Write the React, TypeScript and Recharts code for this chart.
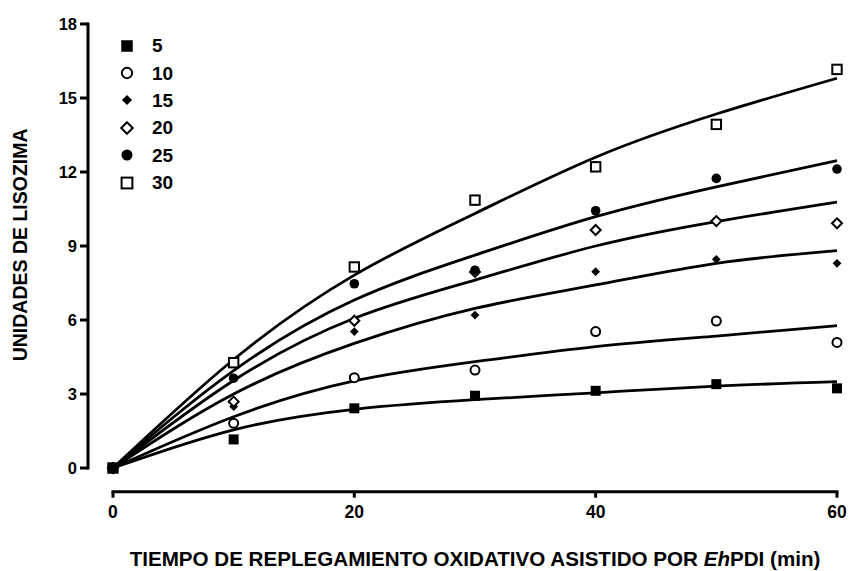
import React from 'react';
import { ComposedChart, Line, Scatter, XAxis, YAxis, ReferenceLine, Label } from 'recharts';

// the chart fills the whole window, so drop the default body margin
if (typeof document !== 'undefined') document.body.style.margin = '0';

// sampling times (min)
const times = [0, 10, 20, 30, 40, 50, 60];

// measured lysozyme units, one list per EhPDI series
const obs5 = [0, 1.16, 2.42, 2.93, 3.13, 3.4, 3.23];
const obs10 = [0, 1.81, 3.66, 3.97, 5.53, 5.96, 5.09];
const obs15 = [0, 2.49, 5.53, 6.2, 7.96, 8.46, 8.3];
const obs20 = [0, 2.69, 5.97, 7.95, 9.65, 10.01, 9.92];
const obs25 = [0, 3.64, 7.47, 8.02, 10.43, 11.74, 12.12];
const obs30 = [0, 4.27, 8.15, 10.86, 12.21, 13.93, 16.16];

// fitted curves at the same times
const fit5 = [0, 1.55, 2.38, 2.77, 3.05, 3.32, 3.5];
const fit10 = [0, 2.08, 3.53, 4.31, 4.92, 5.35, 5.77];
const fit15 = [0, 3.0, 5.05, 6.47, 7.42, 8.3, 8.81];
const fit20 = [0, 3.55, 6.07, 7.62, 9.0, 9.99, 10.78];
const fit25 = [0, 3.95, 6.81, 8.63, 10.19, 11.4, 12.46];
const fit30 = [0, 4.4, 7.82, 10.32, 12.6, 14.35, 15.8];

const seriesNames = ['5', '10', '15', '20', '25', '30'];
const xTicks = [0, 20, 40, 60];
const yTicks = [0, 3, 6, 9, 12, 15, 18];

type Kind = 'square' | 'circleOpen' | 'diamond' | 'diamondOpen' | 'circle' | 'squareOpen';
const kinds: Kind[] = ['square', 'circleOpen', 'diamond', 'diamondOpen', 'circle', 'squareOpen'];

const FONT = '"Liberation Sans", Arial, sans-serif';

const fitRows = times.map((t, i) => ({
  t,
  f5: fit5[i],
  f10: fit10[i],
  f15: fit15[i],
  f20: fit20[i],
  f25: fit25[i],
  f30: fit30[i],
}));

const toPoints = (vals: number[]) => times.map((t, i) => ({ t, v: vals[i] }));

function Marker({ kind, cx, cy, s = 1 }: { kind: Kind; cx: number; cy: number; s?: number }) {
  switch (kind) {
    case 'square': {
      const h = 5 * s;
      return <rect x={cx - h} y={cy - h} width={2 * h} height={2 * h} fill="#000" />;
    }
    case 'squareOpen': {
      const h = 4.7 * s;
      return <rect x={cx - h} y={cy - h} width={2 * h} height={2 * h} fill="#fff" stroke="#000" strokeWidth={2} />;
    }
    case 'circle':
      return <circle cx={cx} cy={cy} r={4.8 * s} fill="#000" />;
    case 'circleOpen':
      return <circle cx={cx} cy={cy} r={4.5 * s} fill="#fff" stroke="#000" strokeWidth={2} />;
    case 'diamond': {
      const h = 4.4 * s;
      return <polygon points={`${cx},${cy - h} ${cx + h},${cy} ${cx},${cy + h} ${cx - h},${cy}`} fill="#000" />;
    }
    default: {
      const h = 5 * s;
      return (
        <polygon
          points={`${cx},${cy - h} ${cx + h},${cy} ${cx},${cy + h} ${cx - h},${cy}`}
          fill="#fff"
          stroke="#000"
          strokeWidth={2}
        />
      );
    }
  }
}

const shapeFor = (kind: Kind) => (p: any) => <Marker kind={kind} cx={p.cx} cy={p.cy} />;

const XTitle = (props: any) => {
  const vb = props.viewBox || { x: 88, y: 491.7, width: 749, height: 40 };
  return (
    <text
      x={vb.x + vb.width / 2 + 12.5}
      y={vb.y + 74}
      textAnchor="middle"
      fontFamily={FONT}
      fontWeight="bold"
      fontSize={20.6}
      fill="#000"
    >
      TIEMPO DE REPLEGAMIENTO OXIDATIVO ASISTIDO POR <tspan fontStyle="italic">Eh</tspan>PDI (min)
    </text>
  );
};

const YTitle = (props: any) => {
  const vb = props.viewBox || { x: 0, y: 24, width: 88, height: 467.7 };
  const x = vb.x + 20.3;
  const y = vb.y + vb.height / 2 - 13;
  return (
    <text
      x={x}
      y={y}
      transform={`rotate(-90 ${x} ${y})`}
      textAnchor="middle"
      dominantBaseline="central"
      fontFamily={FONT}
      fontWeight="bold"
      fontSize={19.5}
      fill="#000"
    >
      UNIDADES DE LISOZIMA
    </text>
  );
};

export default function App() {
  const obs = [obs5, obs10, obs15, obs20, obs25, obs30];
  // series 5 drawn last so its filled square sits on top at the origin
  const order = [1, 2, 3, 4, 5, 0];

  return (
    <div style={{ position: 'relative', width: 850, height: 571, fontFamily: FONT, overflow: 'hidden' }}>
      <ComposedChart
        width={850}
        height={571}
        data={fitRows}
        margin={{ top: 24, right: 13, bottom: 39.3, left: 0 }}
      >
        <XAxis
          dataKey="t"
          type="number"
          domain={[-2.07, 60]}
          ticks={xTicks}
          axisLine={false}
          tickSize={6}
          tickMargin={8}
          height={40}
          tickLine={{ stroke: '#000', strokeWidth: 3 }}
          tick={{ fill: '#000', fontSize: 17.5, fontWeight: 'bold', fontFamily: FONT }}
        >
          <Label content={XTitle} />
        </XAxis>
        <YAxis
          type="number"
          domain={[-0.96, 18]}
          ticks={yTicks}
          axisLine={false}
          width={88}
          tickSize={8}
          tickMargin={3}
          tickLine={{ stroke: '#000', strokeWidth: 3 }}
          tick={{ fill: '#000', fontSize: 16.5, fontWeight: 'bold', fontFamily: FONT }}
        >
          <Label content={YTitle} />
        </YAxis>

        <ReferenceLine
          segment={[{ x: -2.07, y: 0 }, { x: -2.07, y: 18 }]}
          stroke="#000"
          strokeWidth={3}
          strokeLinecap="square"
          ifOverflow="visible"
        />
        <ReferenceLine
          segment={[{ x: 0, y: -0.96 }, { x: 60, y: -0.96 }]}
          stroke="#000"
          strokeWidth={3}
          strokeLinecap="square"
          ifOverflow="visible"
        />

        {['f5', 'f10', 'f15', 'f20', 'f25', 'f30'].map((k) => (
          <Line
            key={k}
            dataKey={k}
            type="natural"
            stroke="#000"
            strokeWidth={2.8}
            dot={false}
            activeDot={false}
            isAnimationActive={false}
          />
        ))}

        {order.map((i) => (
          <Scatter
            key={seriesNames[i]}
            name={seriesNames[i]}
            data={toPoints(obs[i])}
            dataKey="v"
            shape={shapeFor(kinds[i])}
            isAnimationActive={false}
          />
        ))}
      </ComposedChart>

      {/* legend, top left inside the plot */}
      <div style={{ position: 'absolute', left: 118, top: 32 }}>
        {seriesNames.map((name, i) => (
          <div key={name} style={{ display: 'flex', alignItems: 'center', height: 27.4 }}>
            <svg width={18} height={18} style={{ display: 'block' }}>
              <Marker kind={kinds[i]} cx={9} cy={9} s={1.15} />
            </svg>
            <span style={{ marginLeft: 16, fontSize: 19, fontWeight: 'bold', color: '#000', lineHeight: 1 }}>
              {name}
            </span>
          </div>
        ))}
      </div>
    </div>
  );
}
